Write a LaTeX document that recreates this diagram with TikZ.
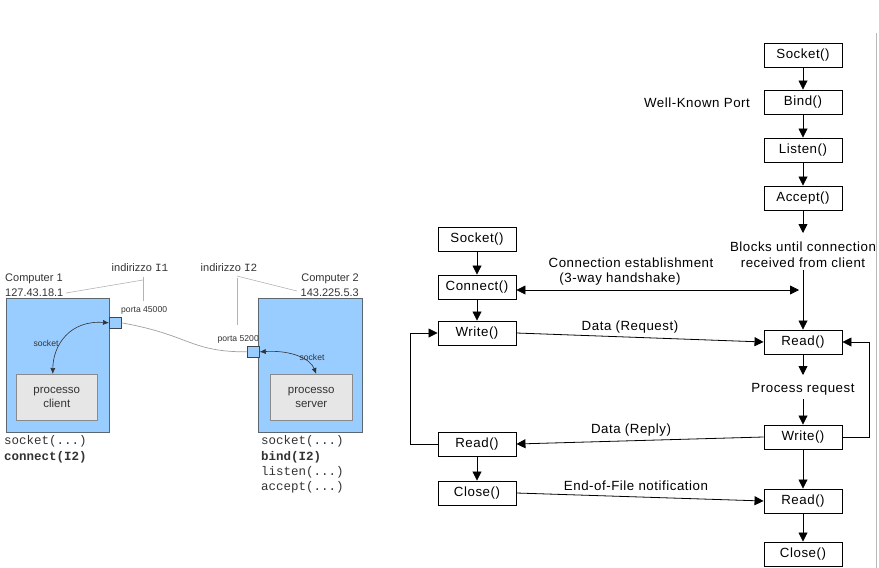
\documentclass[tikz,border=0pt]{standalone}
\usepackage{fontspec}
\setmainfont{Liberation Sans}
\setmonofont{Liberation Mono}
\newfontfamily\diagfont[LetterSpace=4]{Liberation Sans}
\usetikzlibrary{arrows.meta}
\definecolor{compblue}{HTML}{99CCFF}
\definecolor{compedge}{HTML}{5A6670}
\definecolor{procgray}{HTML}{E6E6E6}
\definecolor{procedge}{HTML}{8A8A8A}
\definecolor{wiregray}{HTML}{A0A0A0}
\definecolor{txtgray}{HTML}{333333}
\begin{document}
\begin{tikzpicture}[x=1pt,y=-1pt,
  fbox/.style={draw, line width=0.9pt, minimum width=78pt, minimum height=24pt, inner sep=0pt, font=\diagfont\fontsize{13.3}{15}\selectfont},
  arr/.style={-{Triangle[length=9pt,width=9pt]}, line width=0.8pt},
  dblarr/.style={{Triangle[length=9pt,width=9pt]}-{Triangle[length=9pt,width=9pt]}, line width=0.8pt},
  lbl/.style={font=\diagfont\fontsize{13.3}{15}\selectfont, inner sep=0pt},
  comp/.style={draw=compedge, fill=compblue, line width=0.7pt, anchor=north west, inner sep=0pt},
  proc/.style={draw=procedge, fill=procgray, line width=0.6pt, anchor=north west, inner sep=0pt, align=center, text=txtgray, font=\fontsize{11.5}{14}\selectfont},
  portbox/.style={draw=compedge!70!black, fill=compblue, line width=0.7pt, anchor=north west, inner sep=0pt, minimum width=12pt, minimum height=11pt},
  stxt/.style={font=\fontsize{11}{13}\selectfont, text=txtgray, inner sep=0pt},
  smalltxt/.style={font=\fontsize{8.6}{10}\selectfont, text=txtgray, inner sep=0pt},
  tinytxt/.style={font=\fontsize{8.6}{10}\selectfont, text=txtgray, inner sep=0pt},
  mono/.style={font=\ttfamily\fontsize{12.5}{14}\selectfont, text=txtgray, inner sep=0pt, anchor=west},
  guide/.style={draw=wiregray!80, line width=0.6pt},
  sockarr/.style={{Latex[length=6pt,width=5pt]}-{Latex[length=6pt,width=5pt]}, line width=0.6pt, draw=txtgray}
]
\useasboundingbox (0,0) rectangle (879,568);

% ---------------- LEFT DIAGRAM ----------------
\node[comp, minimum width=103pt, minimum height=134pt] (pc1) at (6,298) {};
\node[proc, minimum width=81pt, minimum height=46pt] (proc1) at (16,374) {processo\\client};
\node[portbox] (port1) at (109,317) {};

\node[comp, minimum width=104pt, minimum height=134pt] (pc2) at (258,298) {};
\node[proc, minimum width=82pt, minimum height=46pt] (proc2) at (270,374) {processo\\server};
\node[portbox] (port2) at (247,346) {};

\node[stxt, anchor=west] (c1name) at (5,279) {Computer 1};
\node[stxt, anchor=west] (c1ip) at (5,293) {127.43.18.1};
\node[stxt] (ind1) at (140,268) {indirizzo \texttt{I1}};
\node[smalltxt, anchor=west] (porta1) at (121,310) {porta 45000};

\node[stxt, anchor=east] (c2name) at (359,279) {Computer 2};
\node[stxt, anchor=east] (c2ip) at (359,293) {143.225.5.3};
\node[stxt] (ind2) at (229,268) {indirizzo \texttt{I2}};
\node[smalltxt, anchor=east] (porta2) at (259,339) {porta 5200};

\coordinate (g1a) at (66,293);
\coordinate (g1b) at (143,280);
\coordinate (g1c) at (143,301);
\draw[guide] (g1a) -- (g1b);
\draw[guide] (143,277) -- (g1c);
\coordinate (g2a) at (237,276);
\coordinate (g2b) at (297,291);
\coordinate (g2c) at (237,325);
\draw[guide] (g2a) -- (g2b);
\draw[guide] (237,278) -- (g2c);

% wire
\draw[draw=wiregray, line width=0.7pt] (port1.east) .. controls (190,335) and (190,352) .. (port2.west);

% socket arrows
\draw[sockarr] (port1.west) .. controls (70,320) and (53,345) .. ([xshift=-4pt]proc1.north);
\node[tinytxt] (sl1) at (46,343) {socket};
\draw[sockarr] (port2.east) .. controls (290,350) and (310,358) .. ([xshift=5pt]proc2.north);
\node[tinytxt] (sl2) at (312,357) {socket};

\node[mono] (m1) at (4,441) {socket(...)};
\node[mono] (m2) at (4,457) {\textbf{connect(I2)}};
\node[mono] (m3) at (261,441) {socket(...)};
\node[mono] (m4) at (261,457) {\textbf{bind(I2)}};
\node[mono] (m5) at (261,472) {listen(...)};
\node[mono] (m6) at (261,487) {accept(...)};

% ---------------- RIGHT DIAGRAM ----------------
\draw[gray!55, line width=0.7pt] (876,33) -- (876,568);

% client
\node[fbox] (cs) at (477,239) {Socket()};
\node[fbox] (cc) at (477,287) {Connect()};
\node[fbox] (cw) at (477,333) {Write()};
\node[fbox] (cr) at (477,444) {Read()};
\node[fbox] (ccl) at (477,493) {Close()};

% server
\node[fbox] (ss) at (803,55) {Socket()};
\node[fbox] (sb) at (803,102) {Bind()};
\node[fbox] (sl) at (803,150) {Listen()};
\node[fbox] (sa) at (803,198) {Accept()};
\node[fbox] (sr1) at (803,342) {Read()};
\node[fbox] (sw) at (803,437) {Write()};
\node[fbox] (sr2) at (803,501) {Read()};
\node[fbox] (scl) at (803,554) {Close()};

\node[lbl] (wkp) at (697,103) {Well-Known Port};
\node[lbl, align=center, font=\diagfont\fontsize{13.3}{16}\selectfont] (blocks) at (803,255) {Blocks until connection\\received from client};
\node[lbl] (preq) at (803,389) {Process request};

\coordinate (accend) at (803,233);
\coordinate (prend) at (803,375);
\coordinate (connend) at (799,290);

% server vertical arrows
\draw[arr] (ss) -- (sb);
\draw[arr] (sb) -- (sl);
\draw[arr] (sl) -- (sa);
\draw[arr] (sa) -- (accend);
\draw[arr] ([yshift=-2pt]blocks.south) -- (sr1);
\draw[arr] (sr1) -- (prend);
\draw[arr] ([yshift=-4pt]preq.south) -- (sw);
\draw[arr] (sw) -- (sr2);
\draw[arr] (sr2) -- (scl);

% client vertical arrows
\draw[arr] (cs) -- (cc);
\draw[arr] (cc) -- (cw);
\draw[arr] (cr) -- (ccl);

% loops
\draw[arr] (cr.west) -- ++(-27,0) |- (cw.west);
\draw[arr] (sw.east) -- ++(27,0) |- (sr1.east);

% horizontal exchanges
\draw[dblarr] (cc.east |- connend) -- (connend);
\node[lbl] (conn1) at (631,263) {Connection establishment};
\node[lbl] (conn2) at (620,279) {(3-way handshake)};

\draw[arr] (cw.east) -- (sr1.west);
\node[lbl] (dreq) at (630,327) {Data (Request)};

\draw[arr] (sw.west) -- (cr.east);
\node[lbl] (drep) at (631,430) {Data (Reply)};

\draw[arr] (ccl.east) -- (sr2.west);
\node[lbl] (eof) at (636,486) {End-of-File notification};
\end{tikzpicture}
\end{document}
